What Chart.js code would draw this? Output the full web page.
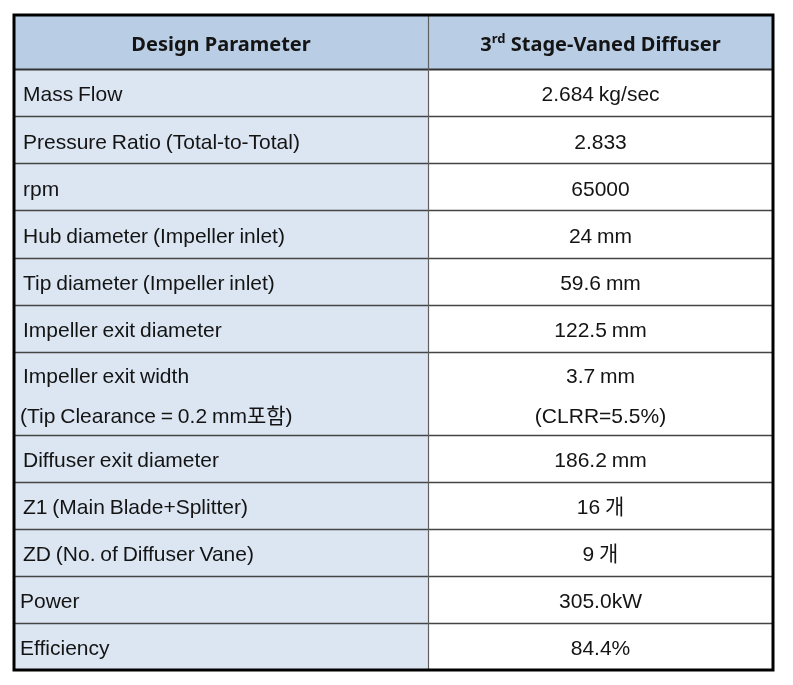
<!DOCTYPE html>
<html><head><meta charset="utf-8">
<script src="https://cdn.jsdelivr.net/npm/chart.js@4.4.0/dist/chart.umd.min.js"></script>
<style>html,body{margin:0;padding:0;background:#fff;overflow:hidden}</style>
</head><body>
<canvas id="c" width="793" height="685"></canvas>
<script>
// ---- data ----
const headers = ['Design Parameter', '3rd Stage-Vaned Diffuser'];
const parameters = [
  ['Mass Flow'],
  ['Pressure Ratio (Total-to-Total)'],
  ['rpm'],
  ['Hub diameter (Impeller inlet)'],
  ['Tip diameter (Impeller inlet)'],
  ['Impeller exit diameter'],
  ['Impeller exit width', '(Tip Clearance = 0.2 mm포함)'],
  ['Diffuser exit diameter'],
  ['Z1 (Main Blade+Splitter)'],
  ['ZD (No. of Diffuser Vane)'],
  ['Power'],
  ['Efficiency']
];
const values = [
  ['2.684 kg/sec'],
  ['2.833'],
  ['65000'],
  ['24 mm'],
  ['59.6 mm'],
  ['122.5 mm'],
  ['3.7 mm', '(CLRR=5.5%)'],
  ['186.2 mm'],
  ['16 개'],
  ['9 개'],
  ['305.0kW'],
  ['84.4%']
];

// ---- layout (row units on the y scale, column split on the x scale) ----
const HEADER_UNITS = 1.15, LINE2_UNITS = 1.76, SPLIT = 0.5455;
const rowEdges = [0, HEADER_UNITS];
parameters.forEach(p => rowEdges.push(rowEdges[rowEdges.length - 1] + (p.length > 1 ? LINE2_UNITS : 1)));
const TOTAL = rowEdges[rowEdges.length - 1];
const indents = parameters.map(p => p.map(t => (t.startsWith('(') || t === 'Power' || t === 'Efficiency') ? 6 : 9));

const BODY_FONT = '21px "Liberation Sans", Arial, "Noto Sans CJK KR", sans-serif';
const HEAD_FONT = 'bold 20px "Noto Sans", "Liberation Sans", "Noto Sans CJK KR", sans-serif';

const tablePlugin = {
  id: 'table',
  afterDraw(chart) {
    const {ctx, scales: {x, y}} = chart;
    const X0 = x.getPixelForValue(0), X1 = x.getPixelForValue(1), XS = x.getPixelForValue(SPLIT);
    const Y = v => y.getPixelForValue(v);
    ctx.save();
    ctx.fillStyle = '#b9cde5';
    ctx.fillRect(X0, Y(0), X1 - X0, Y(HEADER_UNITS) - Y(0));
    ctx.fillStyle = '#dce6f2';
    ctx.fillRect(X0, Y(HEADER_UNITS), XS - X0, Y(TOTAL) - Y(HEADER_UNITS));
    ctx.fillStyle = '#ffffff';
    ctx.fillRect(XS, Y(HEADER_UNITS), X1 - XS, Y(TOTAL) - Y(HEADER_UNITS));
    for (let i = 1; i < rowEdges.length - 1; i++) {
      const yy = Math.round(Y(rowEdges[i])) + 0.5;
      ctx.strokeStyle = i === 1 ? '#333333' : '#444444';
      ctx.lineWidth = i === 1 ? 1.8 : 1.4;
      ctx.beginPath(); ctx.moveTo(X0, yy); ctx.lineTo(X1, yy); ctx.stroke();
    }
    ctx.strokeStyle = '#606060'; ctx.lineWidth = 1.2;
    ctx.beginPath(); ctx.moveTo(Math.round(XS) + 0.5, Y(0)); ctx.lineTo(Math.round(XS) + 0.5, Y(TOTAL)); ctx.stroke();
    ctx.strokeStyle = '#000000'; ctx.lineWidth = 3;
    ctx.strokeRect(X0, Y(0), X1 - X0, Y(TOTAL) - Y(0));

    ctx.fillStyle = '#141414';
    ctx.textBaseline = 'middle';
    const hy = (Y(0) + Y(HEADER_UNITS)) / 2 + 3;
    ctx.font = HEAD_FONT; ctx.textAlign = 'center';
    ctx.fillText(headers[0], (X0 + XS) / 2, hy);
    const m = headers[1].match(/^(\d+)(st|nd|rd|th)(.*)$/);
    ctx.textAlign = 'left';
    const f1 = HEAD_FONT, fs = 'bold 13px "Noto Sans", "Liberation Sans", sans-serif';
    ctx.font = f1; const w1 = ctx.measureText(m[1]).width, w3 = ctx.measureText(m[3]).width;
    ctx.font = fs; const w2 = ctx.measureText(m[2]).width;
    let sx = (XS + X1) / 2 - (w1 + w2 + w3) / 2;
    ctx.font = f1; ctx.fillText(m[1], sx, hy); sx += w1;
    ctx.font = fs; ctx.fillText(m[2], sx, hy - 6); sx += w2;
    ctx.font = f1; ctx.fillText(m[3], sx, hy);

    ctx.font = BODY_FONT;
    if ('wordSpacing' in ctx) ctx.wordSpacing = '-1px';
    parameters.forEach((p, i) => {
      const top = Y(rowEdges[i + 1]), bot = Y(rowEdges[i + 2]);
      const c = (top + bot) / 2 + 3;
      const offs = p.length > 1 ? [-19, 21] : [0];
      ctx.textAlign = 'left';
      p.forEach((t, k) => ctx.fillText(t, X0 + indents[i][k], c + offs[k]));
      ctx.textAlign = 'center';
      values[i].forEach((t, k) => ctx.fillText(t, (XS + X1) / 2, c + offs[k]));
    });
    ctx.restore();
  }
};

new Chart(document.getElementById('c'), {
  type: 'scatter',
  data: { datasets: [{ data: [] }] },
  options: {
    responsive: false,
    animation: false,
    layout: { padding: { left: 14, right: 20, top: 15, bottom: 15 } },
    plugins: { legend: { display: false }, tooltip: { enabled: false } },
    scales: {
      x: { type: 'linear', min: 0, max: 1, display: false },
      y: { type: 'linear', min: 0, max: TOTAL, reverse: true, display: false }
    }
  },
  plugins: [tablePlugin]
});
</script>
</body></html>
